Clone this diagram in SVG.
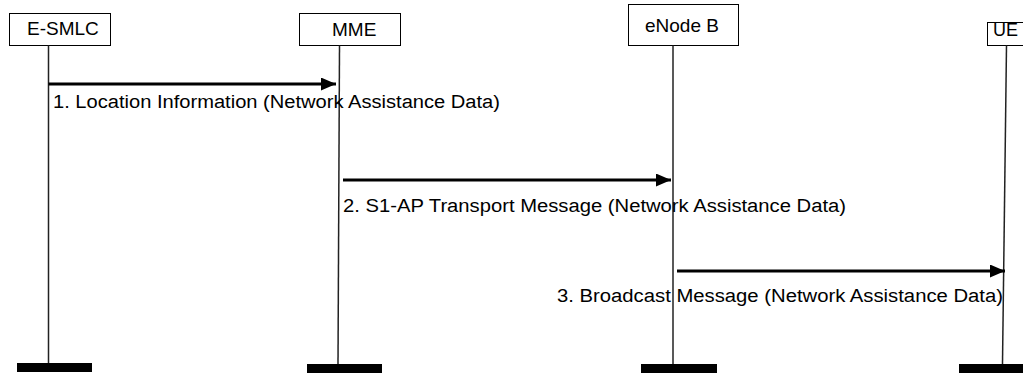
<svg xmlns="http://www.w3.org/2000/svg" width="1023" height="373" viewBox="0 0 1023 373">
<style>
.box{fill:#fff;stroke:#000;stroke-width:1}
.life{stroke:#222;stroke-width:1.5;fill:none}
.bar{fill:#000}
.lbl{font-family:"Liberation Sans",Arial,sans-serif;font-size:19px;fill:#000}
.msg{font-family:"Liberation Sans",Arial,sans-serif;font-size:18px;fill:#000}
.arr{stroke:#000;stroke-width:3;fill:none}
</style>
<defs>
<marker id="ah" markerUnits="userSpaceOnUse" markerWidth="16" markerHeight="13" refX="15" refY="6.5" orient="auto">
<path d="M0,0 L15,6.5 L0,13 Z" fill="#000"/>
</marker>
</defs>
<g id="esmlc">
<rect class="box" x="9.5" y="13.5" width="101" height="32"/>
<text class="lbl" x="27" y="35">E-SMLC</text>
<line class="life" x1="48.5" y1="45.5" x2="48.5" y2="364"/>
<rect class="bar" x="17" y="363" width="75" height="9"/>
</g>
<g id="mme">
<rect class="box" x="299.5" y="13.5" width="101" height="32"/>
<text class="lbl" x="332" y="36">MME</text>
<line class="life" x1="339.5" y1="45.5" x2="338" y2="364"/>
<rect class="bar" x="307" y="364" width="75" height="9"/>
</g>
<g id="enodeb">
<rect class="box" x="628.5" y="4.5" width="110" height="41"/>
<text class="lbl" x="645" y="32">eNode B</text>
<line class="life" x1="673" y1="45.5" x2="673" y2="364"/>
<rect class="bar" x="641" y="364" width="76" height="9"/>
</g>
<g id="ue">
<rect class="box" x="987.5" y="22.5" width="40" height="23"/>
<text class="lbl" x="993" y="36" style="font-size:18px">UE</text>
<line class="life" x1="1006.5" y1="45.5" x2="1002.5" y2="364"/>
<rect class="bar" x="959" y="364" width="70" height="9"/>
</g>
<g id="connectors">
<line class="arr" x1="48.5" y1="84" x2="336" y2="84" marker-end="url(#ah)"/>
<line class="arr" x1="343" y1="180" x2="671" y2="180" marker-end="url(#ah)"/>
<line class="arr" x1="677" y1="271" x2="1005" y2="271" marker-end="url(#ah)"/>
</g>
<g id="labels">
<text class="msg" x="53" y="108" textLength="447" lengthAdjust="spacingAndGlyphs">1. Location Information (Network Assistance Data)</text>
<text class="msg" x="343" y="212" textLength="503" lengthAdjust="spacingAndGlyphs">2. S1-AP Transport Message (Network Assistance Data)</text>
<text class="msg" x="557" y="302" textLength="446" lengthAdjust="spacingAndGlyphs">3. Broadcast Message (Network Assistance Data)</text>
</g>
</svg>
